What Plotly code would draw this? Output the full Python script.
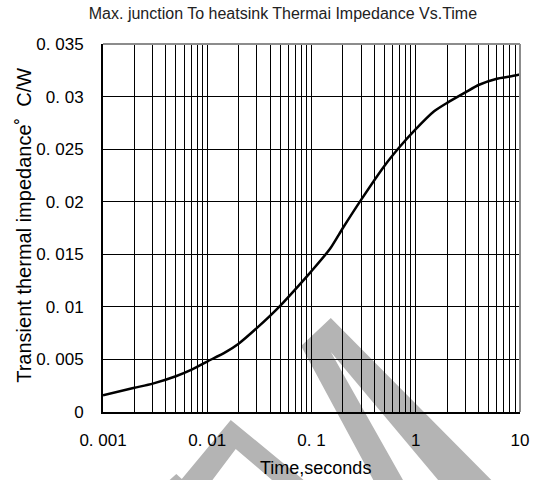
import plotly.graph_objects as go

# ---- data ----
time_s = [0.001, 0.002, 0.003, 0.005, 0.007, 0.01, 0.015, 0.02, 0.03, 0.05,
          0.075, 0.1, 0.15, 0.2, 0.3, 0.5, 0.7, 1, 1.5, 2, 3, 4, 6, 8, 10]
z_th = [0.0016, 0.0023, 0.0027, 0.0034, 0.0040, 0.0048, 0.0057, 0.0065, 0.0080, 0.0101,
        0.0120, 0.0134, 0.0155, 0.0175, 0.0202, 0.0234, 0.0252, 0.0269, 0.0286, 0.0294,
        0.0304, 0.0311, 0.0317, 0.0319, 0.0321]

x_major = [0.001, 0.01, 0.1, 1, 10]
x_major_text = ["0. 001", "0. 01", "0. 1", "1", "10"]
x_minor = [m * d for d in [0.001, 0.01, 0.1, 1] for m in range(2, 10)]
y_ticks = [0, 0.005, 0.01, 0.015, 0.02, 0.025, 0.03, 0.035]
y_text = ["0", "0. 005", "0. 01", "0. 015", "0. 02", "0. 025", "0. 03", "0. 035"]

title_text = "Max. junction To heatsink Thermai Impedance Vs.Time"
x_title = "Time,seconds"
y_title = "Transient thermal impedance\u02da  C/W"

# ---- layout geometry ----
W, H = 541, 480
L, R, T, B = 103, 17, 44, 68
PX0, PX1, PY0, PY1 = L, W - R, T, H - B

def to_paper(px, py):
    return (px - PX0) / (PX1 - PX0), (PY1 - py) / (PY1 - PY0)

def path_from_px(pts):
    parts = []
    for i, (px, py) in enumerate(pts):
        x, y = to_paper(px, py)
        parts.append(("M" if i == 0 else "L") + f"{x:.4f},{y:.4f}")
    return " ".join(parts) + " Z"

wm_color = "#b4b4b4"
watermark = [
    [(303, 346), (333, 318), (497, 482), (443, 482), (333, 352), (407, 482), (377, 482)],
    [(180, 482), (232, 420), (308, 482), (276, 482), (237, 449), (212, 482)],
    [(168, 482), (177, 474), (186, 482)],
]

fig = go.Figure()
fig.add_trace(go.Scatter(x=time_s, y=z_th, mode="lines",
                         line=dict(color="black", width=2.5, shape="spline", smoothing=0.6),
                         hoverinfo="skip", showlegend=False))

shapes = []
for poly in watermark:
    shapes.append(dict(type="path", xref="paper", yref="paper", path=path_from_px(poly),
                       fillcolor=wm_color, line=dict(width=0), layer="below"))
# gray top/right frame
shapes.append(dict(type="line", xref="paper", yref="paper", x0=0, x1=1, y0=1, y1=1,
                   line=dict(color="#8c8c8c", width=2), layer="above"))
shapes.append(dict(type="line", xref="paper", yref="paper", x0=1, x1=1, y0=0, y1=1,
                   line=dict(color="#8c8c8c", width=2), layer="above"))

tick_font = dict(family="Liberation Sans, Arial, sans-serif", size=17, color="black")

xt_x, xt_y = to_paper(318, 468)
yt_x, yt_y = to_paper(23, 225)

fig.update_layout(
    width=W, height=H,
    margin=dict(l=L, r=R, t=T, b=B, pad=0),
    paper_bgcolor="white", plot_bgcolor="rgba(0,0,0,0)",
    shapes=shapes,
    title=dict(text=title_text, x=0.523, xanchor="center", y=1 - 13 / H, yanchor="middle",
               font=dict(family="Liberation Sans Narrow, Arial Narrow, Liberation Sans, sans-serif", size=16, color="#222")),
    annotations=[
        dict(text=x_title, xref="paper", yref="paper", x=xt_x, y=xt_y,
             xanchor="center", yanchor="middle", showarrow=False,
             font=dict(family="Liberation Sans, Arial, sans-serif", size=18, color="black")),
        dict(text=y_title, xref="paper", yref="paper", x=yt_x, y=yt_y, textangle=-90,
             xanchor="center", yanchor="middle", showarrow=False,
             font=dict(family="Liberation Sans, Arial, sans-serif", size=20, color="black")),
    ],
    xaxis=dict(type="log", range=[-3, 1], tickmode="array", tickvals=x_major, ticktext=x_major_text,
               showgrid=True, gridcolor="black", gridwidth=1,
               minor=dict(tickmode="array", tickvals=x_minor, showgrid=True, gridcolor="black", gridwidth=1, ticks=""),
               showline=True, linecolor="black", linewidth=2, ticks="", zeroline=False,
               tickfont=tick_font, ticklabelstandoff=12),
    yaxis=dict(range=[0, 0.035], tickmode="array", tickvals=y_ticks, ticktext=y_text,
               showgrid=True, gridcolor="black", gridwidth=1,
               showline=True, linecolor="black", linewidth=2, ticks="", zeroline=False,
               tickfont=tick_font, ticklabelstandoff=14),
)

fig.write_html("out.html")
